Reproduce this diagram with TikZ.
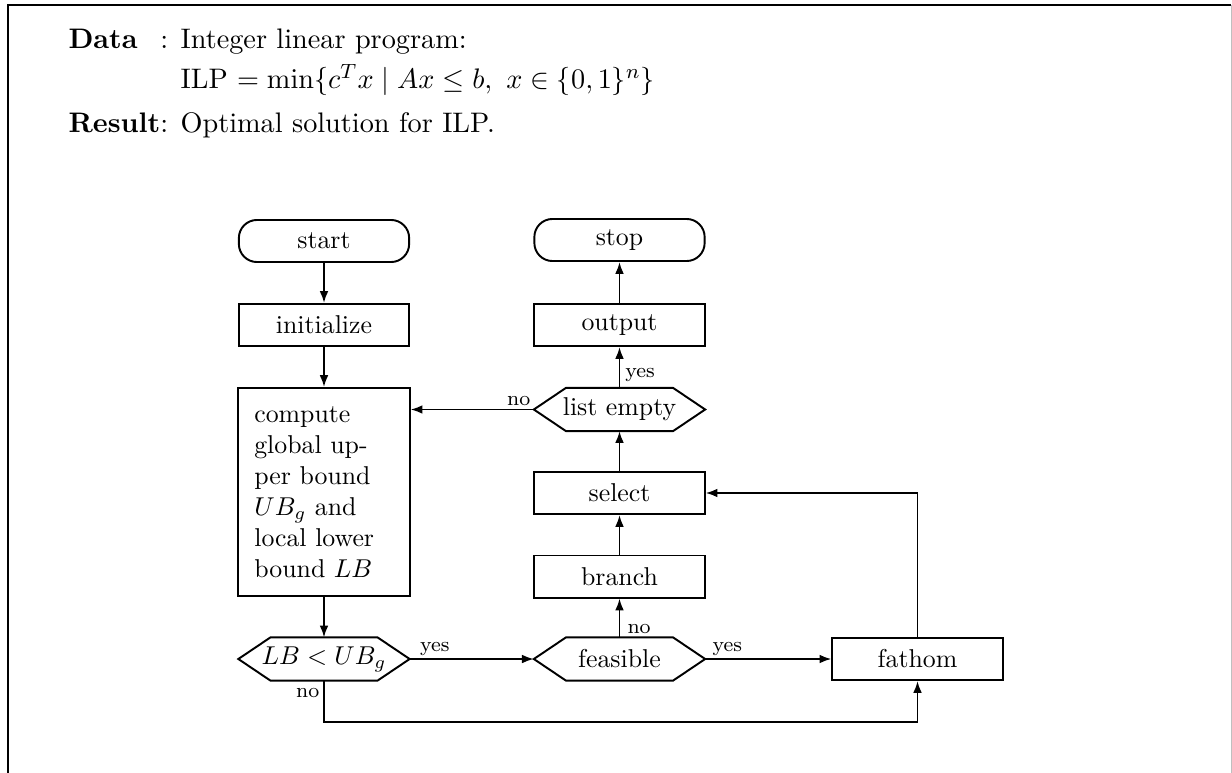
\documentclass[tikz,border=0pt]{standalone}
\usetikzlibrary{arrows.meta}
% outline of a decision box: pointed ends, flat top and bottom
\newcommand\hexoutline[1]{%
  \draw[line] (#1.west) -- ([xshift=12.4pt]#1.north west) -- ([xshift=-12.4pt]#1.north east)
    -- (#1.east) -- ([xshift=-12.4pt]#1.south east) -- ([xshift=12.4pt]#1.south west) -- cycle;}
\begin{document}
\begin{tikzpicture}[x=0.3876pt,y=-0.3876pt,
  line/.style={line width=0.75pt},
  arr/.style={line, -{Latex[length=4.6pt,width=3.4pt]}},
  procbox/.style={draw, line width=0.75pt, minimum width=66pt, minimum height=16.3pt, inner sep=0pt},
  termbox/.style={procbox, rounded corners=7pt},
  hexbox/.style={minimum width=66pt, minimum height=16.3pt, inner sep=0pt},
  lbl/.style={font=\footnotesize, inner sep=0pt},
  hdr/.style={anchor=base west, inner sep=0pt, font=\fontsize{10.95}{13.6}\selectfont}]

\useasboundingbox (0,0) rectangle (1232,772);

% frame of the algorithm box
\begin{scope}
  \clip (0,0) rectangle (1232,772);
  \draw[line width=0.7pt] (8,900) -- (8,5) -- (1231,5);
  \draw[line width=0.4pt, black!25] (1231,5) -- (1231,900);
\end{scope}

% input / output description
\node[hdr] (datarow) at (68,49) {\rlap{\textbf{Data}}\hphantom{\textbf{Result}}: Integer linear program:};
\node[hdr] (ilprow) at (68,89) {\hphantom{\textbf{Result}: }ILP $=\min\{c^Tx \mid Ax\le b,\ x\in\{0,1\}^n\}$};
\node[hdr] (resultrow) at (68,133) {\textbf{Result}: Optimal solution for ILP.};

% left column
\node[termbox] (start) at (324,241) {start};
\node[procbox] (init) at (324,325) {initialize};
\node[procbox, minimum height=80.6pt, text width=54pt, align=left, inner xsep=6.2pt] (compute) at (324,492)
  {compute\\global up-\\per bound\\$UB_g$ and\\local lower\\bound $LB$};
\node[hexbox] (lbtest) at (324,659) {$LB < UB_g$};
\hexoutline{lbtest}

% right column
\node[termbox] (stop) at (619.5,240) {stop};
\node[procbox] (output) at (619.5,325) {output};
\node[hexbox] (listempty) at (619.5,409.5) {list empty};
\hexoutline{listempty}
\node[procbox] (select) at (619.5,493) {select};
\node[procbox] (branch) at (619.5,576.5) {branch};
\node[hexbox] (feasible) at (619.5,659) {feasible};
\hexoutline{feasible}

\node[procbox] (fathom) at (917.5,659) {fathom};
\coordinate (loopy) at (0,722);

% connectors
\draw[arr] (start) -- (init);
\draw[arr] (init) -- (compute);
\draw[arr] (compute) -- (lbtest);
\draw[arr] (lbtest) -- (feasible);
\draw[arr] (feasible) -- (fathom);
\draw[arr] (feasible) -- (branch);
\draw[arr] (branch) -- (select);
\draw[arr] (select) -- (listempty);
\draw[arr] (listempty) -- (output);
\draw[arr] (output) -- (stop);
\draw[arr] (listempty.west) -- (listempty.west -| compute.east);
\draw[arr] (fathom.north) |- (select.east);
\draw[arr] (lbtest.south) |- (loopy -| fathom.south) -- (fathom.south);

% branch labels
\node[lbl, anchor=base west] at ([xshift=3.9pt,yshift=3.1pt]lbtest.east) {yes};
\node[lbl, anchor=base east] at ([xshift=-1.6pt,yshift=-6.6pt]lbtest.south) {no};
\node[lbl, anchor=base west] at ([xshift=2.7pt,yshift=3.1pt]feasible.east) {yes};
\node[lbl, anchor=base west] at ([xshift=2.9pt,yshift=1.6pt]feasible.north) {no};
\node[lbl, anchor=base west] at ([xshift=2.1pt,yshift=3.9pt]listempty.north) {yes};
\node[lbl, anchor=base east] at ([xshift=-1.2pt,yshift=1.7pt]listempty.west) {no};
\end{tikzpicture}
\end{document}
